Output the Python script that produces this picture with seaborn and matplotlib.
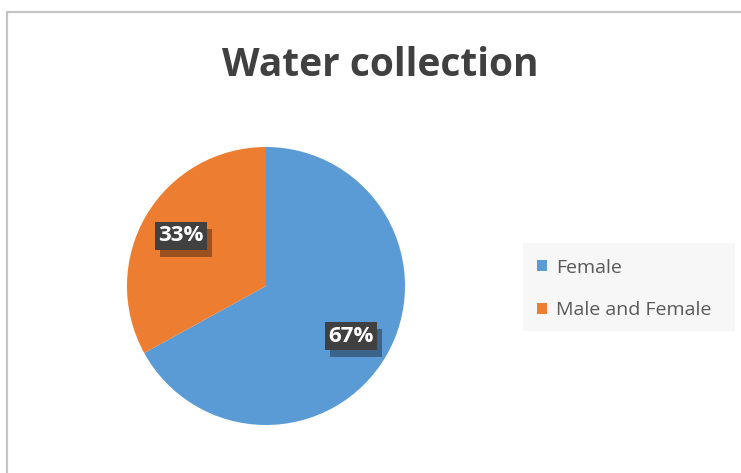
import matplotlib
matplotlib.use("Agg")
import matplotlib.pyplot as plt
import matplotlib.patheffects as pe
from matplotlib.lines import Line2D
from matplotlib.patches import Rectangle
import seaborn as sns

# Chart data
categories = ["Female", "Male and Female"]
shares = [67, 33]
colors = ["#5B9BD5", "#ED7D31"]
title = "Water collection"

sns.set_theme(style="white")
plt.rcParams["font.family"] = ["Open Sans", "DejaVu Sans"]

W, H = 741, 473
fig = plt.figure(figsize=(W / 100, H / 100), dpi=100)
fig.patch.set_facecolor("white")

# Chart-area frame (top and left edges visible)
fig.add_artist(Line2D([6.5 / W, 1.0], [1 - 12.5 / H, 1 - 12.5 / H],
                      transform=fig.transFigure, color="#c4c4c4", lw=1.6))
fig.add_artist(Line2D([6.5 / W, 6.5 / W], [0, 1 - 12.5 / H],
                      transform=fig.transFigure, color="#c4c4c4", lw=1.6))

# Pie axes
cx, cy, r = 266, 286, 139
ax = fig.add_axes([(cx - r) / W, (H - cy - r) / H, 2 * r / W, 2 * r / H])
wedges, texts, autotexts = ax.pie(
    shares, colors=colors, startangle=90, counterclock=False,
    autopct=lambda p: f"{p:.0f}%", pctdistance=0.71,
    wedgeprops=dict(linewidth=0),
    textprops=dict(color="white", fontsize=16, fontweight="bold"),
)
ax.set_xlim(-1, 1)
ax.set_ylim(-1, 1)
ax.set_aspect("equal")
ax.axis("off")

# Dark label boxes with a drop shadow
for t in autotexts:
    t.set_zorder(5)
    t.set_bbox(dict(boxstyle="square,pad=0.15", facecolor="#404040",
                    edgecolor="none"))
    t.get_bbox_patch().set_path_effects([
        pe.SimplePatchShadow(offset=(3.6, -5), shadow_rgbFace="black",
                             alpha=0.35),
        pe.Normal(),
    ])

# Title
fig.text(380 / W, 1 - 65 / H, title, ha="center", va="center",
         fontsize=28, fontweight="bold", color="#404040")

# Legend
fig.add_artist(Rectangle((523 / W, 1 - 331 / H), 212 / W, 88 / H,
                         transform=fig.transFigure, facecolor="#f7f7f7",
                         edgecolor="none"))
handles = [Rectangle((0, 0), 1, 1, facecolor=c, edgecolor="none") for c in colors]
leg = fig.legend(handles, categories, loc="center left",
                 bbox_to_anchor=(537 / W, 1 - 289 / H), frameon=False,
                 borderpad=0, borderaxespad=0,
                 fontsize=14, labelcolor="#595959", handlelength=0.5,
                 handleheight=0.5, handletextpad=0.5, labelspacing=1.25)

fig.savefig("out.png", dpi=100)
